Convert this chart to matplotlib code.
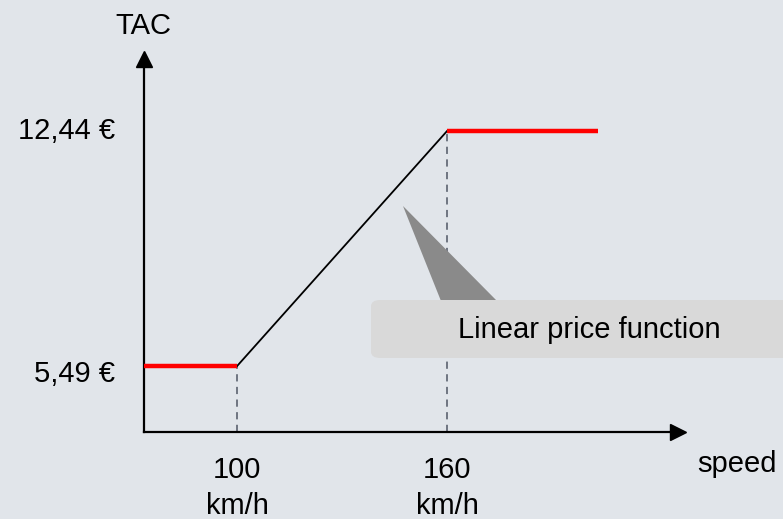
import matplotlib.pyplot as plt
from matplotlib.patches import FancyBboxPatch, Polygon

# price function: flat - linear ramp - flat
speed_knots = [100, 160]
price_knots = [5.49, 12.44]
speed_min, speed_max = 73.4, 203.0
knot_labels = ["100", "160"]
price_labels = ["5,49 €", "12,44 €"]
unit_label = "km/h"
callout_text = "Linear price function"

W, H = 783, 519
bg = "#e1e5ea"
font = "Liberation Sans"

fig = plt.figure(figsize=(W / 100, H / 100), dpi=100, facecolor=bg)


def px(x, y):
    # pixel (from top-left) -> figure fraction
    return x / W, 1 - y / H


# plot area: origin at (144, 432); arrow heads end near x=685 / y=52
x0, y0, x1, y1 = 144, 432, 678, 59
ax = fig.add_axes([x0 / W, (H - y0) / H, (x1 - x0) / W, (y0 - y1) / H])
ax.set_facecolor("none")
ax.set_xlim(speed_min, 226.0)
ax.set_ylim(3.54, 14.57)
ax.set_xticks([])
ax.set_yticks([])
for s in ["top", "right"]:
    ax.spines[s].set_visible(False)
for s in ["left", "bottom"]:
    ax.spines[s].set_linewidth(1.6)
    ax.spines[s].set_color("black")
ax.plot(1, 0, ">", color="black", ms=11, transform=ax.transAxes, clip_on=False)
ax.plot(0, 1, "^", color="black", ms=11, transform=ax.transAxes, clip_on=False)

# dashed guides
for s, p in zip(speed_knots, price_knots):
    ax.plot([s, s], [3.54, p], ls=(0, (4, 3)), color="#656c78", lw=1.3, zorder=1)

# segments
ax.plot([speed_min, speed_knots[0]], [price_knots[0]] * 2, color="#ff0000", lw=3.2,
        solid_capstyle="butt", zorder=3)
ax.plot(speed_knots, price_knots, color="black", lw=1.3, zorder=2)
ax.plot([speed_knots[1], speed_max], [price_knots[1]] * 2, color="#ff0000", lw=3.2,
        solid_capstyle="butt", zorder=3)

# axis labels
fs = 21
fig.text(*px(143, 26), "TAC", ha="center", va="center", fontsize=fs, family=font)
fig.text(*px(697, 472), "speed", ha="left", va="baseline", fontsize=fs, family=font)
ax_to_fig = ax.transData + fig.transFigure.inverted()
for s, lab in zip(speed_knots, knot_labels):
    fx, _ = ax_to_fig.transform((s, 0))
    fig.text(fx, px(0, 478)[1], lab, ha="center", va="baseline", fontsize=fs, family=font)
    fig.text(fx, px(0, 514)[1], unit_label, ha="center", va="baseline", fontsize=fs, family=font)
for p, lab, dy in zip(price_knots, price_labels, [8, 0]):
    _, fy = ax_to_fig.transform((0, p))
    fig.text(px(115, 0)[0], fy - dy / H, lab, ha="right", va="center", fontsize=fs, family=font)

# callout bubble
tri = Polygon([px(403, 206), px(441, 301), px(497, 301)], closed=True,
              transform=fig.transFigure, facecolor="#8a8a8a", edgecolor="none", zorder=4)
fig.add_artist(tri)
bx, by = px(371, 358)
box = FancyBboxPatch((bx, by), (820 - 371) / W, 58 / H,
                     boxstyle="round,pad=0,rounding_size=0.012",
                     transform=fig.transFigure, facecolor="#d9d9d9", edgecolor="none", zorder=5)
fig.add_artist(box)
fig.text(*px(589, 330), callout_text, ha="center", va="center", fontsize=fs,
         family=font, zorder=6)

fig.savefig("out.png", dpi=100, facecolor=bg)
